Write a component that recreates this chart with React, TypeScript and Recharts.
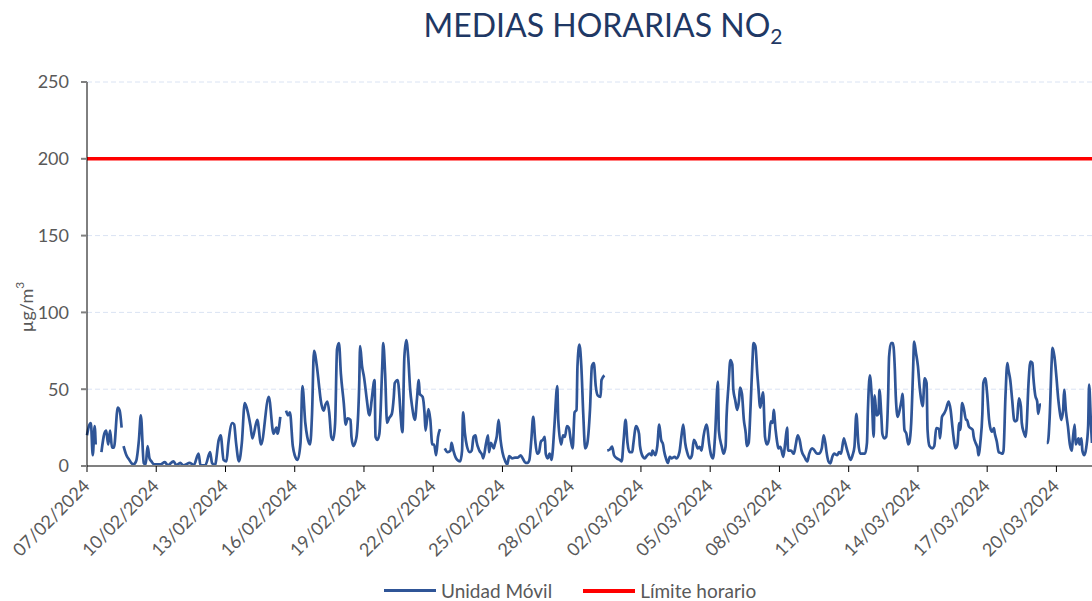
import { CartesianGrid, Legend, Line, LineChart, XAxis, YAxis } from 'recharts'

// horas desde 07/02/2024 00:00 y valor de NO2 (µg/m3), un array por tramo sin huecos
const tramo1: [number, number][] = [[0, 20], [2, 26], [4, 28], [6, 7], [8, 26], [9, 14]]
const tramo2: [number, number][] = [[15, 9], [18, 21], [20, 23], [22, 14], [24, 23], [26, 12], [28, 12], [32, 38], [34, 36], [36, 25]]
const tramo3: [number, number][] = [
    [38, 13], [41, 7], [44, 4], [46, 2], [48, 1], [51, 3], [54, 17], [56, 33], [59, 2], [61, 1], [63, 13], [65, 5], [67, 3], [70, 1],
    [76, 1], [81, 2.5], [84, 0.5], [90, 3], [93, 0.5], [97, 2], [100, 0.5], [107, 2], [111, 0.5], [116, 8], [118, 0.5], [123, 0.5],
    [128, 9], [130, 2], [133, 0.5], [137, 17], [139, 20], [142, 4], [145, 3], [147, 15], [151, 28], [153, 27], [155, 15], [158, 3],
    [161, 15], [164, 41], [166, 38], [170, 26], [172, 18], [177, 30], [181, 14], [189, 45], [194, 21], [197, 25], [198, 21], [201, 32]
]
const tramo4: [number, number][] = [
    [207, 36], [209, 33], [211, 35], [214, 13], [216, 7], [219, 4], [222, 15], [224, 52], [227, 28], [229, 19], [232, 14], [234, 34],
    [236, 75], [239, 65], [241, 54], [243, 43], [246, 36], [248, 40], [250, 42], [252, 34], [254, 19], [256, 17], [258, 28], [260, 76],
    [262, 80], [264, 60], [267, 41], [269, 27], [271, 31], [274, 30], [275, 19], [277, 13], [280, 18], [283, 52], [284, 78], [286, 65],
    [288, 58], [291, 43], [293, 34], [294, 33], [296, 43], [299, 56], [300, 19], [302, 17], [304, 21], [307, 65], [308, 80], [310, 60],
    [312, 28], [314, 31], [317, 34], [319, 45], [320, 54], [323, 56], [325, 44], [326, 34], [328, 22], [330, 71], [332, 82], [334, 71],
    [336, 50], [338, 39], [341, 30], [343, 43], [345, 56], [346, 47], [349, 45], [351, 34], [352, 23], [355, 37], [357, 30], [359, 14],
    [361, 14], [363, 7], [365, 19], [367, 24]
]
const tramo5: [number, number][] = [
    [372, 11.5], [375, 9], [378, 10], [379, 15], [381, 10], [383, 6], [385, 4], [388, 3], [390, 10], [391, 35], [393, 21], [395, 13],
    [398, 9], [400, 10], [402, 19], [404, 20], [405, 16], [408, 10], [411, 7], [412, 5], [415, 15], [417, 20], [418, 9], [420, 15],
    [423, 11.5], [424, 14], [426, 19], [428, 30], [430, 17], [432, 9], [435, 3], [437, 1], [439, 6.5], [442, 5], [445, 5.5], [448, 5.5],
    [451, 7], [453, 5], [456, 2], [458, 2], [460, 4], [462, 17], [464, 32], [466, 17], [468, 8], [470, 9], [472, 16], [474, 17],
    [476, 19], [477, 8], [479, 5], [481, 8], [483, 4], [484, 8], [486, 26], [489, 52], [490, 30], [493, 14], [495, 20], [497, 19],
    [499, 26], [501, 25], [503, 17], [505, 11.5], [507, 35], [509, 36.5], [510, 65], [512, 79], [514, 65], [516, 34], [518, 11.5],
    [520, 14], [523, 36.5], [525, 65], [527, 67], [529, 52], [531, 46], [534, 45], [535, 56], [538, 59]
]
const tramo6: [number, number][] = [
    [541, 10], [544, 11], [546, 12.6], [548, 7], [551, 5], [554, 4], [556, 3], [558, 17], [560, 30], [562, 15], [564, 9], [567, 9],
    [568, 14], [571, 26], [574, 21], [575, 13], [578, 6], [580, 5], [582, 6.5], [585, 8], [587, 7], [588, 10], [591, 7], [593, 13],
    [595, 27], [597, 17], [599, 14], [600, 10], [602, 5], [604, 2], [606, 6], [608, 5], [611, 6], [613, 5], [616, 9], [618, 19],
    [620, 27], [622, 15], [624, 9], [627, 5], [629, 7], [631, 17], [633, 15], [635, 11.5], [637, 12.5], [639, 10], [641, 19], [644, 27],
    [645, 25], [647, 14], [649, 7], [651, 5], [653, 19], [656, 55], [657, 23], [660, 12.6], [662, 8], [664, 12.6], [665, 32], [667, 52],
    [669, 69], [671, 66], [672, 50], [674, 43], [676, 36.5], [678, 43], [679, 51], [681, 47], [683, 30], [685, 21], [686, 13], [688, 15],
    [690, 39], [692, 69], [693, 80], [695, 78], [697, 60], [698, 52], [700, 38], [702, 45], [703, 48], [705, 19], [707, 14], [709, 17],
    [711, 29], [713, 28], [714, 36.5], [716, 23.5], [718, 14], [719, 11.5], [721, 12.5], [724, 6], [726, 15], [728, 25], [729, 10],
    [732, 10], [735, 8], [737, 14], [739, 20], [741, 17], [743, 10], [746, 6], [749, 3], [751, 8], [754, 11.5], [756, 10.5], [759, 8],
    [761, 8], [764, 11.5], [766, 20], [768, 14], [769, 9], [771, 3], [773, 1.7], [775, 6], [777, 8], [780, 7], [782, 9], [784, 8],
    [787, 18], [788, 16], [791, 9], [794, 4], [796, 7], [798, 12.6], [800, 34], [802, 15], [804, 8], [806, 8], [809, 8], [811, 15],
    [812, 36.5], [814, 59], [816, 45], [818, 19], [819, 46], [821, 33], [823, 34], [824, 49.5], [826, 32], [827, 21], [829, 18], [831, 19],
    [833, 45], [834, 71], [836, 80], [838, 80], [840, 63], [841, 45], [843, 32], [845, 36.5], [847, 43], [848, 47], [850, 23.5], [852, 21],
    [854, 14], [855, 15], [857, 28], [859, 63], [860, 81], [862, 73.5], [864, 65], [866, 50], [868, 41], [869, 39], [871, 57], [873, 54],
    [874, 23.5], [876, 13], [879, 11.5], [881, 13], [883, 24.6], [886, 24], [887, 18], [889, 32], [891, 34], [893, 36.5], [894, 38.7],
    [896, 42], [898, 36.5], [900, 24.6], [901, 19], [903, 11.5], [905, 13.7], [907, 28], [908, 23.5], [910, 41], [912, 36.5], [914, 30],
    [915, 30], [917, 25.6], [921, 23.5], [922, 19], [924, 15], [926, 11.5], [927, 7], [929, 16], [931, 34], [932, 54], [934, 57], [936, 47],
    [938, 30], [939, 25.6], [941, 22.4], [943, 24.6], [944, 21], [946, 16], [948, 9], [950, 8.5], [952, 8], [953, 10], [955, 45], [957, 67],
    [958, 63], [960, 56], [962, 43], [964, 30], [965, 29], [967, 30], [969, 44], [971, 39], [972, 28], [974, 22], [976, 19], [977, 25.6],
    [979, 54], [981, 68], [983, 67], [984, 58], [986, 46], [988, 42], [989, 34], [991, 40], [992, 40]
]
const tramo7: [number, number][] = [
    [998, 15], [999, 15], [1001, 32], [1003, 67], [1004, 77], [1006, 71], [1008, 58], [1010, 43], [1011, 37.6], [1013, 30], [1015, 36.5],
    [1016, 49.5], [1018, 35], [1020, 25.6], [1022, 14], [1024, 10], [1025, 17], [1027, 27], [1028, 14], [1031, 18], [1032, 14], [1034, 18],
    [1035, 10], [1037, 7], [1039, 12], [1041, 26], [1042, 53], [1044, 26], [1045, 15]
]

const LIMITE_HORARIO = 200

const ticksHoras = [0, 72, 144, 216, 288, 360, 432, 504, 576, 648, 720, 792, 864, 936, 1008]
const fechas = ['07/02/2024', '10/02/2024', '13/02/2024', '16/02/2024', '19/02/2024', '22/02/2024', '25/02/2024', '28/02/2024',
    '02/03/2024', '05/03/2024', '08/03/2024', '11/03/2024', '14/03/2024', '17/03/2024', '20/03/2024']
const ordenLeyenda = ['no2', 'limite']

const tramos = [tramo1, tramo2, tramo3, tramo4, tramo5, tramo6, tramo7]
const data: { h: number; no2: number | null; limite: number }[] = []
tramos.forEach((tramo, i) => {
    // fila vacia para cortar la linea entre tramos
    if (i > 0) data.push({ h: tramo[0][0] - 1, no2: null, limite: LIMITE_HORARIO })
    tramo.forEach(([h, v]) => data.push({ h, no2: v, limite: LIMITE_HORARIO }))
})

const GRIS = '#595959'

const DateTick = (props: any) => {
    const { x, y, payload } = props
    const ax = x + 4
    const ay = y + 13
    return (
        <text x={ax} y={ay} transform={`rotate(-45, ${ax}, ${ay})`} textAnchor="end" fill={GRIS} fontSize={18} fontFamily="Lato">
            {fechas[ticksHoras.indexOf(payload.value)]}
        </text>
    )
}

const renderLegend = (props: any) => {
    const items = [...props.payload].sort((a: any, b: any) => ordenLeyenda.indexOf(a.dataKey) - ordenLeyenda.indexOf(b.dataKey))
    return (
        <div style={{ display: 'flex', alignItems: 'center', fontFamily: 'Lato', fontSize: 19, color: GRIS, whiteSpace: 'nowrap' }}>
            {items.map((entry: any) => (
                <div key={entry.value} style={{ display: 'flex', alignItems: 'center', marginRight: 31 }}>
                    <span style={{ display: 'inline-block', width: 52, height: entry.dataKey === 'limite' ? 4 : 2.5, background: entry.color, marginRight: 5 }} />
                    <span>{entry.value}</span>
                </div>
            ))}
        </div>
    )
}

export default function App() {
    return (
        <div style={{ position: 'absolute', left: 0, top: 0, width: 1092, height: 601, overflow: 'hidden', background: '#fff' }}>
            <div style={{ position: 'absolute', top: 5, left: 0, width: 1206, textAlign: 'center', fontFamily: 'Lato', fontSize: 32, color: '#1F3864', whiteSpace: 'nowrap' }}>
                MEDIAS HORARIAS NO<sub style={{ fontSize: 21 }}>2</sub>
            </div>
            <LineChart
                width={1092}
                height={601}
                data={data}
                style={{ fontFamily: 'Lato' }}
                margin={{
                    top: 82,
                    right: 0,
                    left: 0,
                    bottom: 40
                }}>
                <CartesianGrid vertical={false} strokeDasharray="5 3" stroke="#DAE3F3" />
                <XAxis dataKey="h" type="number" domain={[0, 'dataMax']} ticks={ticksHoras} height={95}
                       axisLine={{ stroke: '#808080', strokeWidth: 2 }} tickLine={{ stroke: '#000' }} tickSize={6}
                       tick={<DateTick />} interval={0} />
                <YAxis domain={[0, 250]} ticks={[0, 50, 100, 150, 200, 250]} width={87} interval={0}
                       axisLine={{ stroke: '#000' }} tickLine={{ stroke: '#808080', strokeWidth: 2 }} tickSize={6} tickMargin={12}
                       tick={{ fill: GRIS, fontSize: 18, fontFamily: 'Lato' }}
                       label={() => (
                           <text x={26} y={307} transform="rotate(-90, 26, 307)" textAnchor="middle" dominantBaseline="central"
                                 fill={GRIS} fontSize={18} fontFamily="Lato">µg/m<tspan dy={-7} fontSize={12}>3</tspan></text>
                       )} />
                <Legend verticalAlign="middle" align="center" layout="horizontal" content={renderLegend}
                        wrapperStyle={{ top: 579, left: 384, width: 'auto', height: 'auto' }} />
                <Line type="monotone" dataKey="no2" name="Unidad Móvil" stroke="#2F5597" strokeWidth={2.7}
                      isAnimationActive={false} dot={false} activeDot={false} connectNulls={false} />
                <Line type="linear" dataKey="limite" name="Límite horario" stroke="#FF0000" strokeWidth={3.5}
                      isAnimationActive={false} dot={false} activeDot={false} />
            </LineChart>
        </div>
    )
}
